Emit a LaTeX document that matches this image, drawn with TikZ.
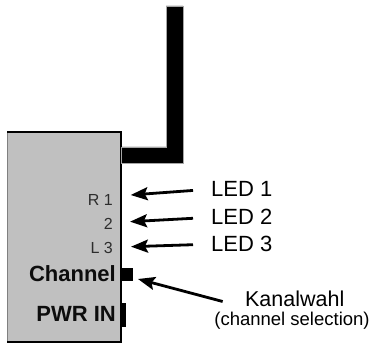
\documentclass[tikz,border=0pt]{standalone}
\usepackage{fontspec}
\setmainfont{Liberation Sans}
\usetikzlibrary{arrows.meta}
\definecolor{boxgray}{RGB}{192,192,192}
\definecolor{pintext}{RGB}{45,45,45}

\begin{document}
\begin{tikzpicture}[x=1pt,y=-1pt,
    pinlabel/.style={anchor=base east,inner sep=0pt,text=pintext,font=\fontsize{16}{16}\selectfont},
    portlabel/.style={anchor=base east,inner sep=0pt,text=black!95,font=\fontsize{22}{22}\selectfont\bfseries},
    ledlabel/.style={anchor=base west,inner sep=0pt,font=\fontsize{22}{22}\selectfont},
    pointer/.style={line width=2.8pt,-{Stealth[length=17pt,width=13pt,inset=3pt]}}]
    \useasboundingbox (0,0) rectangle (376,345);
    \fill[boxgray] (7,132) rectangle (121,342);
    \draw[gray] (7.5,132) -- (7.5,342);
    \draw[line width=2pt] (7,132) -- (121,132) -- (121,342) -- (7,342);
    \filldraw[fill=black,draw=gray!70,line width=.6pt] (166,6) -- (183,6) -- (183,163) -- (121,163) -- (121,147) -- (166,147) -- cycle;
    \fill (121,268) rectangle (133,281);
    \fill (121,303) rectangle (126,327);

    \node[pinlabel] (r1) at (113,205.7) {R 1};
    \node[pinlabel] (two) at (113,230) {2};
    \node[pinlabel] (l3) at (113,254) {L 3};
    \node[portlabel] (channel) at (116,282) {Channel};
    \node[portlabel] (pwr) at (116,321.7) {PWR IN};

    \node[ledlabel] (led1) at (211,196.7) {LED 1};
    \node[ledlabel] (led2) at (211,225) {LED 2};
    \node[ledlabel] (led3) at (211,251.7) {LED 3};
    \node[anchor=base,inner sep=0pt,font=\fontsize{21.5}{21.5}\selectfont] (kanal) at (294.7,307) {Kanalwahl};
    \node[anchor=base,inner sep=0pt,font=\fontsize{18.5}{18.5}\selectfont] (kanalsub) at (292,326) {(channel selection)};

    \coordinate (tip1) at (130.7,195);
    \coordinate (tip2) at (130,221.7);
    \coordinate (tip3) at (131,246.7);
    \coordinate (tipch) at (138,279);
    \draw[pointer,shorten <=18pt] (led1.west) -- (tip1);
    \draw[pointer,shorten <=18pt] (led2.west) -- (tip2);
    \draw[pointer,shorten <=18pt] (led3.west) -- (tip3);
    \draw[pointer,shorten <=23pt] (kanal.south west) -- (tipch);
\end{tikzpicture}
\end{document}
